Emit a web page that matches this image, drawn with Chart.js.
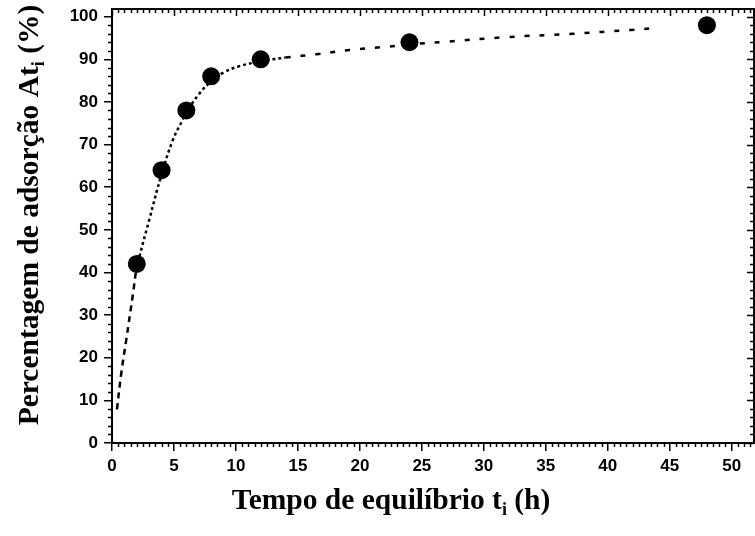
<!DOCTYPE html>
<html>
<head>
<meta charset="utf-8">
<script src="https://cdn.jsdelivr.net/npm/chart.js@4"></script>
<style>
  html, body { margin: 0; padding: 0; background: #fff; overflow: hidden; }
  #wrap { width: 755px; height: 536px; position: relative; }
  canvas { display: block; }
</style>
</head>
<body>
<div id="wrap"><canvas id="chart" width="755" height="536"></canvas></div>
<script>
// Measured points
const timeHours = [2, 4, 6, 8, 12, 24, 48];
const adsorptionPct = [42, 64, 78, 86, 90, 94, 98];

// Fitted curve
const fitTime = [0.4, 0.75, 1.15, 1.7, 2, 3, 4, 4.9, 5.7, 6, 7, 8, 9, 10.3, 12, 14, 16.5, 19.2, 22.4, 24, 26.8, 31.8, 37.2, 41.9, 43.8];
const fitPct = [7.9, 16.4, 24.2, 35.1, 41, 52.3, 63, 71, 75.8, 77.5, 81.8, 84.8, 86.9, 88.4, 89.5, 90.4, 91.2, 92.2, 93.0, 93.5, 94.1, 95.2, 96.0, 96.9, 97.3];

// Tick labels
const xTickValues = [0, 5, 10, 15, 20, 25, 30, 35, 40, 45, 50];
const yTickValues = [0, 10, 20, 30, 40, 50, 60, 70, 80, 90, 100];

const xTitle = [{ t: 'Tempo de equilíbrio t' }, { t: 'i', sub: true }, { t: ' (h)' }];
const yTitle = [{ t: 'Percentagem de adsorção At' }, { t: 'i', sub: true }, { t: ' (%)' }];

const tickFont = { family: 'Liberation Sans, Arial, sans-serif', size: 17, weight: 'bold' };
const titleFamily = 'Liberation Serif, Times New Roman, serif';

// draw text with a subscript part, centred on (0,0) of the current transform
function drawSubText(ctx, parts, size) {
    const subSize = Math.round(size * 0.62);
    let total = 0;
    parts.forEach(p => {
        ctx.font = `bold ${p.sub ? subSize : size}px ${titleFamily}`;
        p.w = ctx.measureText(p.t).width;
        total += p.w;
    });
    let x = -total / 2;
    parts.forEach(p => {
        ctx.font = `bold ${p.sub ? subSize : size}px ${titleFamily}`;
        ctx.fillText(p.t, x, p.sub ? size * 0.22 : 0);
        x += p.w;
    });
}

const framePlugin = {
    id: 'frame',
    afterDraw(chart) {
        const ctx = chart.ctx;
        const a = chart.chartArea;
        const xs = chart.scales.x;
        const ys = chart.scales.y;
        ctx.save();
        ctx.strokeStyle = '#000';
        ctx.lineWidth = 2;
        ctx.lineCap = 'butt';
        ctx.strokeRect(a.left, a.top, a.right - a.left, a.bottom - a.top);

        // x ticks: minor every 0.5, major every 5
        ctx.lineWidth = 1.5;
        for (let v = 0; v <= xs.max + 1e-6; v += 0.5) {
            const px = Math.round(xs.getPixelForValue(v)) + 0.5;
            const major = Math.abs(v % 5) < 1e-6;
            ctx.beginPath();
            if (!major) {
                ctx.moveTo(px, a.bottom); ctx.lineTo(px, a.bottom + 4);
            }
            ctx.moveTo(px, a.top); ctx.lineTo(px, a.top + (major ? 7 : 4));
            ctx.stroke();
        }
        // y ticks: minor every 2, major every 10
        for (let v = 0; v <= ys.max + 1e-6; v += 2) {
            const py = Math.round(ys.getPixelForValue(v)) + 0.5;
            const major = Math.abs(v % 10) < 1e-6;
            ctx.beginPath();
            if (!major) {
                ctx.moveTo(a.left, py); ctx.lineTo(a.left - 4, py);
            }
            ctx.moveTo(a.right, py); ctx.lineTo(a.right - (major ? 7 : 4), py);
            ctx.stroke();
        }

        // axis titles
        ctx.fillStyle = '#000';
        ctx.textBaseline = 'alphabetic';
        ctx.textAlign = 'left';
        ctx.save();
        ctx.translate(391, 509);
        drawSubText(ctx, xTitle, 29.5);
        ctx.restore();
        ctx.save();
        ctx.translate(38, 215);
        ctx.rotate(-Math.PI / 2);
        drawSubText(ctx, yTitle, 29.5);
        ctx.restore();
        ctx.restore();
    }
};

const fitDash = ctx => {
    const x = ctx.p0.parsed.x;
    if (x < 1.9) return [6, 5];
    if (x < 13) return [3, 3];
    return [5, 10];
};

new Chart(document.getElementById('chart'), {
    type: 'scatter',
    data: {
        datasets: [
            {
                label: 'Dados',
                data: timeHours.map((t, i) => ({ x: t, y: adsorptionPct[i] })),
                backgroundColor: '#000',
                borderColor: '#000',
                pointRadius: 9,
                pointHoverRadius: 9,
                borderWidth: 0,
                order: 0
            },
            {
                label: 'Ajuste',
                data: fitTime.map((t, i) => ({ x: t, y: fitPct[i] })),
                showLine: true,
                borderColor: '#000',
                borderWidth: 2.5,
                pointRadius: 0,
                fill: false,
                tension: 0.4,
                segment: { borderDash: fitDash },
                order: 1
            }
        ]
    },
    options: {
        responsive: false,
        maintainAspectRatio: false,
        animation: false,
        devicePixelRatio: 1,
        layout: { autoPadding: false, padding: { top: 9, right: 1, left: 0, bottom: 0 } },
        plugins: {
            legend: { display: false },
            tooltip: { enabled: false }
        },
        scales: {
            x: {
                type: 'linear',
                min: 0,
                max: 51.8,
                afterBuildTicks: s => { s.ticks = xTickValues.map(v => ({ value: v })); },
                afterFit: s => { s.height = 93; s.paddingLeft = 0; s.paddingRight = 0; },
                grid: { drawOnChartArea: false, drawTicks: true, tickLength: 8, color: '#000', lineWidth: 1.5 },
                border: { display: true, color: '#000', width: 2 },
                ticks: { color: '#000', font: tickFont, padding: 5, maxRotation: 0, autoSkip: false }
            },
            y: {
                type: 'linear',
                min: 0,
                max: 101.8,
                afterBuildTicks: s => { s.ticks = yTickValues.map(v => ({ value: v })); },
                afterFit: s => { s.width = 112; s.paddingTop = 0; s.paddingBottom = 0; },
                grid: { drawOnChartArea: false, drawTicks: true, tickLength: 8, color: '#000', lineWidth: 1.5 },
                border: { display: true, color: '#000', width: 2 },
                ticks: { color: '#000', font: tickFont, padding: 6, autoSkip: false }
            }
        }
    },
    plugins: [framePlugin]
});
</script>
</body>
</html>
